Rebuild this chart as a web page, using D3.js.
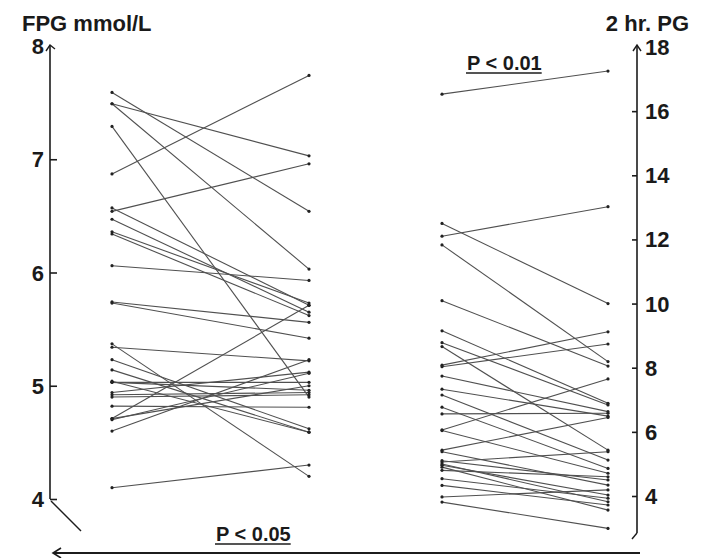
<!DOCTYPE html>
<html>
<head>
<meta charset="utf-8">
<script src="https://cdn.jsdelivr.net/npm/d3@7/dist/d3.min.js"></script>
<style>
  html, body { margin: 0; padding: 0; background: #fff; }
  svg { display: block; }
  text { font-family: "Liberation Sans", Arial, sans-serif; fill: #1a1a1a; }
</style>
</head>
<body>
<svg id="chart" width="702" height="558"></svg>
<script>
// Paired measurements, baseline -> follow-up, one entry per subject
const visits = ["baseline", "follow-up"];

// Fasting plasma glucose (mmol/L)
const fpgBefore = [7.59, 7.49, 7.49, 7.29, 6.87, 6.54, 6.57, 6.47, 6.36, 6.34,
                   6.06, 5.74, 5.73, 4.71, 5.37, 5.34, 5.23, 5.14, 5.04, 5.03,
                   5.03, 4.94, 4.92, 4.90, 4.82, 4.70, 4.60, 4.71, 4.10];
const fpgAfter  = [6.54, 7.03, 6.03, 4.90, 7.74, 6.96, 5.71, 5.65, 5.73, 5.62,
                   5.93, 5.56, 5.42, 5.71, 4.20, 5.22, 4.62, 4.59, 4.59, 5.03,
                   4.96, 5.12, 4.94, 4.92, 4.81, 5.11, 5.23, 5.00, 4.30];

// 2-hour plasma glucose (mmol/L)
const pgBefore = [16.53, 12.50, 12.10, 11.83, 10.09, 9.15, 8.78, 8.66, 8.08, 8.03,
                  7.74, 7.33, 7.15, 6.77, 6.56, 6.06, 6.04, 5.43, 5.38, 5.06,
                  4.96, 4.80, 4.54, 4.33, 3.97, 3.81, 5.10, 5.00, 4.90];
const pgAfter  = [17.25, 10.00, 13.02, 8.19, 8.05, 6.89, 6.84, 5.43, 9.12, 8.74,
                  6.63, 6.49, 5.12, 4.86, 6.58, 7.65, 4.71, 6.45, 4.34, 5.38,
                  4.03, 4.60, 3.93, 3.72, 4.19, 2.99, 4.50, 3.82, 3.56];

const fpgTicks = [4, 5, 6, 7, 8];
const pgTicks = [4, 6, 8, 10, 12, 14, 16, 18];

const fpgTitle = "FPG mmol/L";
const pgTitle = "2 hr. PG";
const fpgP = "P < 0.05";
const pgP = "P < 0.01";

const svg = d3.select("#chart");
const ink = "#1c1c1c";
const lineInk = "#505050";

// scales
const yF = d3.scaleLinear().domain([4, 8]).range([499, 46]);
const yP = d3.scaleLinear().domain([4, 18]).range([496, 47]);
const xF = d3.scalePoint().domain(visits).range([112, 309]);
const xP = d3.scalePoint().domain(visits).range([442, 608]);

const fontSize = 22;

// left axis (FPG)
const leftAxis = d3.axisRight(yF).tickValues(fpgTicks.slice(0, -1)).tickSize(7).tickFormat("");
const gL = svg.append("g").attr("transform", "translate(50,0)").call(leftAxis);
gL.select(".domain").remove();
gL.selectAll(".tick line").attr("stroke", ink).attr("stroke-width", 1.6);
svg.append("line").attr("x1", 50).attr("x2", 50).attr("y1", yF(4)).attr("y2", yF(8) - 1)
  .attr("stroke", ink).attr("stroke-width", 1.6);
svg.append("path").attr("d", `M46,${yF(8) + 5} L50,${yF(8) - 1} L55,${yF(8) + 3}`)
  .attr("fill", "none").attr("stroke", ink).attr("stroke-width", 1.4);
svg.append("line").attr("x1", 51).attr("y1", yF(4) + 2).attr("x2", 81).attr("y2", yF(4) + 32)
  .attr("stroke", ink).attr("stroke-width", 1.4);
svg.selectAll("text.fpgtick").data(fpgTicks).join("text")
  .attr("class", "fpgtick")
  .attr("x", 44).attr("y", d => yF(d) + 8)
  .attr("text-anchor", "end")
  .attr("font-size", fontSize).attr("font-weight", "bold")
  .text(d => d);

// right axis (2 hr PG)
const rightAxis = d3.axisLeft(yP).tickValues(pgTicks.slice(0, -1)).tickSize(5).tickFormat("");
const gR = svg.append("g").attr("transform", "translate(637,0)").call(rightAxis);
gR.select(".domain").remove();
gR.selectAll(".tick line").attr("stroke", ink).attr("stroke-width", 1.6);
svg.append("line").attr("x1", 637).attr("x2", 637).attr("y1", 533).attr("y2", yP(18) - 2)
  .attr("stroke", ink).attr("stroke-width", 1.6);
svg.append("path").attr("d", `M633,${yP(18) + 4} L637,${yP(18) - 2} L641,${yP(18) + 4}`)
  .attr("fill", "none").attr("stroke", ink).attr("stroke-width", 1.4);
svg.append("line").attr("x1", 637).attr("y1", 533).attr("x2", 632).attr("y2", 539)
  .attr("stroke", ink).attr("stroke-width", 1.4);
svg.selectAll("text.pgtick").data(pgTicks).join("text")
  .attr("class", "pgtick")
  .attr("x", 645).attr("y", d => yP(d) + 8)
  .attr("font-size", fontSize).attr("font-weight", "bold")
  .text(d => d);

// axis titles
svg.append("text").attr("x", 22).attr("y", 31).attr("font-size", fontSize)
  .attr("font-weight", "bold").text(fpgTitle);
svg.append("text").attr("x", 689).attr("y", 31).attr("text-anchor", "end")
  .attr("font-size", fontSize).attr("font-weight", "bold").text(pgTitle);

// paired lines
function drawPairs(before, after, x, y) {
  const rows = before.map((b, i) => ({ b, a: after[i] }));
  const g = svg.append("g");
  g.selectAll("line").data(rows).join("line")
    .attr("x1", x(visits[0])).attr("x2", x(visits[1]))
    .attr("y1", d => y(d.b)).attr("y2", d => y(d.a))
    .attr("stroke", lineInk).attr("stroke-width", 1.1);
  const pts = rows.flatMap(d => [[x(visits[0]), y(d.b)], [x(visits[1]), y(d.a)]]);
  g.selectAll("circle").data(pts).join("circle")
    .attr("cx", d => d[0]).attr("cy", d => d[1]).attr("r", 1.6)
    .attr("fill", "#222");
}
drawPairs(fpgBefore, fpgAfter, xF, yF);
drawPairs(pgBefore, pgAfter, xP, yP);

// significance labels
function pLabel(txt, x, y) {
  const t = svg.append("text").attr("x", x).attr("y", y)
    .attr("font-size", 20).attr("font-weight", "bold").text(txt);
  const w = t.node().getComputedTextLength();
  svg.append("line").attr("x1", x - 1).attr("x2", x + w).attr("y1", y + 3).attr("y2", y + 3)
    .attr("stroke", ink).attr("stroke-width", 1.6);
}
pLabel(pgP, 467, 70);
pLabel(fpgP, 216, 541);

// baseline arrow along the bottom
svg.append("line").attr("x1", 53).attr("x2", 640).attr("y1", 553).attr("y2", 553)
  .attr("stroke", ink).attr("stroke-width", 2);
svg.append("path").attr("d", "M61,548 L53,553 L61,558")
  .attr("fill", "none").attr("stroke", ink).attr("stroke-width", 1.6);
</script>
</body>
</html>
